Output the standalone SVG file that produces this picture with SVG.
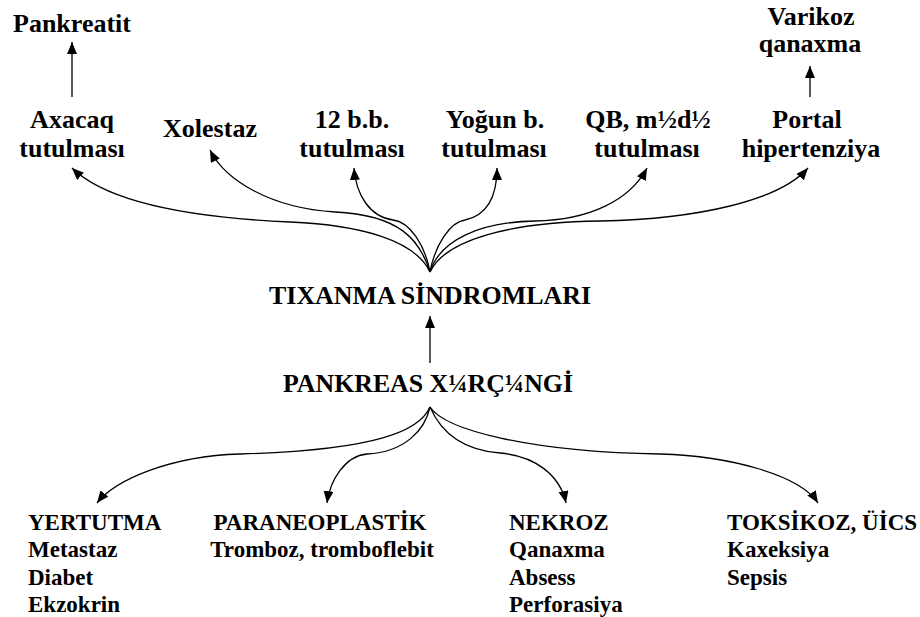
<svg xmlns="http://www.w3.org/2000/svg" width="920" height="617" viewBox="0 0 920 617">
<style>
text{font-family:"Liberation Serif","Times New Roman",serif;font-weight:bold;fill:#000}
.t{font-size:26px;text-anchor:middle}
.b{font-size:23px}
.c{stroke:#000;stroke-width:1.3;fill:none;marker-end:url(#ah)}
</style>
<defs>
<marker id="ah" markerUnits="userSpaceOnUse" markerWidth="14" markerHeight="12" refX="12" refY="5" orient="auto">
<path d="M0,0 L12,5 L0,10 z" fill="#000"/>
</marker>
</defs>
<g id="connectors">
<path class="c" d="M72,97 L72,42"/>
<path class="c" d="M810,97 L810,66"/>
<path class="c" d="M430,363 L430,316"/>
<path class="c" d="M430,272 C415,240 360,225 290,222 C200,218 110,205 72,168"/>
<path class="c" d="M430,272 C420,240 400,215 335,212 C270,208 225,180 210,150"/>
<path class="c" d="M430,272 C425,245 410,222 393,220 C370,217 356,195 354,168"/>
<path class="c" d="M430,272 C435,245 450,222 465,220 C488,215 497,195 497,168"/>
<path class="c" d="M430,272 C440,240 480,222 535,221 C590,220 630,200 647,168"/>
<path class="c" d="M430,272 C445,240 510,222 600,221 C700,219 780,200 808,168"/>
<path class="c" d="M430,407 C420,430 380,450 240,454 C170,456 115,480 97,503"/>
<path class="c" d="M430,407 C425,430 405,452 367,454 C345,456 330,480 327,503"/>
<path class="c" d="M430,407 C440,430 460,450 500,453 C535,456 560,475 566,503"/>
<path class="c" d="M430,407 C445,430 530,452 660,454 C730,456 800,475 818,503"/>
</g>
<g id="pankreatit"><text class="t" x="72" y="32">Pankreatit</text></g>
<g id="varikoz"><text class="t" x="811" y="25">Varikoz</text><text class="t" x="810" y="52">qanaxma</text></g>
<g id="axacaq"><text class="t" x="72" y="128">Axacaq</text><text class="t" x="72" y="157">tutulması</text></g>
<g id="xolestaz"><text class="t" x="210" y="137">Xolestaz</text></g>
<g id="bb12"><text class="t" x="352" y="128">12 b.b.</text><text class="t" x="352" y="157">tutulması</text></g>
<g id="yogun"><text class="t" x="495" y="128">Yoğun b.</text><text class="t" x="494" y="157">tutulması</text></g>
<g id="qb"><text class="t" x="648" y="128">QB, m½d½</text><text class="t" x="647" y="157">tutulması</text></g>
<g id="portal"><text class="t" x="807" y="128">Portal</text><text class="t" x="811" y="157">hipertenziya</text></g>
<g id="tixanma"><text class="t" x="430" y="304" textLength="322" lengthAdjust="spacingAndGlyphs">TIXANMA SİNDROMLARI</text></g>
<g id="pankreas"><text class="t" x="428" y="392" textLength="290" lengthAdjust="spacingAndGlyphs">PANKREAS X¼RÇ¼NGİ</text></g>
<g id="yertutma"><text class="b" x="28" y="530">YERTUTMA</text><text class="b" x="28" y="557">Metastaz</text><text class="b" x="28" y="585">Diabet</text><text class="b" x="28" y="612">Ekzokrin</text></g>
<g id="paraneoplastik"><text class="b" x="320" y="530" text-anchor="middle">PARANEOPLASTİK</text><text class="b" x="322" y="557" text-anchor="middle">Tromboz, tromboflebit</text></g>
<g id="nekroz"><text class="b" x="509" y="530">NEKROZ</text><text class="b" x="509" y="557">Qanaxma</text><text class="b" x="509" y="585">Absess</text><text class="b" x="509" y="612">Perforasiya</text></g>
<g id="toksikoz"><text class="b" x="727" y="530">TOKSİKOZ, ÜİCS</text><text class="b" x="727" y="557">Kaxeksiya</text><text class="b" x="727" y="585">Sepsis</text></g>
</svg>
